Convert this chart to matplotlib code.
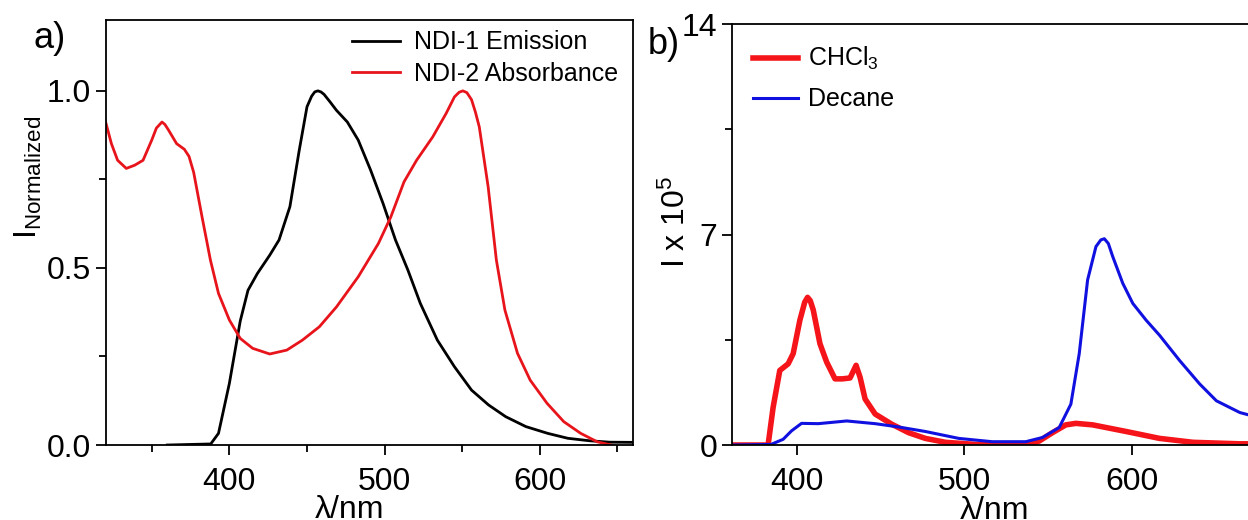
import matplotlib
matplotlib.use("Agg")
import matplotlib.pyplot as plt
from matplotlib.ticker import MultipleLocator

plt.rcParams['font.family'] = ['Liberation Sans', 'DejaVu Sans']
plt.rcParams['mathtext.fontset'] = 'custom'
plt.rcParams['mathtext.rm'] = 'Liberation Sans'
plt.rcParams['mathtext.it'] = 'Liberation Sans'

# panel a: NDI-1 emission (normalized)
em_x = [360, 388, 393, 400, 407, 412, 418, 426, 432, 439, 445, 450, 453, 455, 457, 459,
        461, 465, 469, 476, 483, 491, 499, 507, 515, 523, 534, 545, 556, 567, 578, 591,
        605, 618, 632, 645, 660]
em_y = [0.0, 0.003, 0.033, 0.174, 0.35, 0.437, 0.484, 0.536, 0.579, 0.673, 0.832, 0.955,
        0.985, 0.997, 1.0, 0.997, 0.99, 0.968, 0.945, 0.912, 0.861, 0.776, 0.682, 0.579,
        0.494, 0.40, 0.296, 0.221, 0.155, 0.113, 0.08, 0.052, 0.033, 0.019, 0.012, 0.008,
        0.0075]

# panel a: NDI-2 absorbance (normalized)
ab_x = [320, 324, 328, 333.6, 339, 344.4, 350, 353, 356.6, 358.5, 360.7, 366, 371, 374,
        377, 382.4, 387.8, 393, 400, 407, 415, 426, 437, 447, 458, 469, 483, 496, 504,
        512.5, 520.6, 531, 539.6, 545, 548, 550.4, 553, 556, 558.5, 561, 566.7, 572,
        577.5, 585.6, 593.8, 604.6, 615.4, 626.3, 637, 650.7, 660]
ab_y = [0.917, 0.851, 0.804, 0.781, 0.79, 0.804, 0.861, 0.895, 0.912, 0.905, 0.89, 0.851,
        0.835, 0.815, 0.77, 0.644, 0.522, 0.428, 0.353, 0.301, 0.273, 0.257, 0.268, 0.296,
        0.334, 0.39, 0.475, 0.569, 0.644, 0.743, 0.804, 0.87, 0.936, 0.983, 0.996, 1.0,
        0.995, 0.975, 0.94, 0.898, 0.729, 0.522, 0.381, 0.259, 0.183, 0.118, 0.066, 0.033,
        0.009, -0.005, -0.012]

# panel b: emission in CHCl3 (x 10^5)
chcl3_x = [361, 382.6, 385.6, 389.6, 394.6, 397.6, 401.6, 404.5, 406.2, 407.8, 409.6,
           413.6, 417.6, 422.6, 427, 431.6, 435.2, 437.6, 440.6, 446.6, 456.6, 466.6,
           476.6, 488.6, 506.6, 536.6, 544.6, 552.6, 560.6, 566.6, 576.6, 596.6, 616.6,
           636.6, 664.6, 675]
chcl3_y = [0.0, 0.0, 1.25, 2.48, 2.70, 3.04, 4.15, 4.75, 4.91, 4.8, 4.49, 3.37, 2.76,
           2.2, 2.2, 2.23, 2.65, 2.25, 1.53, 1.03, 0.69, 0.41, 0.22, 0.09, 0.02, 0.02,
           0.13, 0.41, 0.67, 0.72, 0.67, 0.45, 0.22, 0.09, 0.04, 0.04]

# panel b: emission in decane (x 10^5)
decane_x = [361, 384.4, 391.6, 396.6, 402.6, 412.6, 429.6, 446.6, 460.6, 476.6, 496.6,
            516.6, 536.6, 546.6, 556.6, 563.6, 568.6, 573.6, 578.6, 581.5, 583.6, 586,
            588.6, 594.6, 600.6, 608.6, 616.6, 628.6, 640.6, 650.6, 664.6, 670]
decane_y = [0.0, 0.02, 0.19, 0.47, 0.72, 0.71, 0.80, 0.71, 0.6, 0.45, 0.22, 0.11, 0.11,
            0.25, 0.58, 1.36, 3.04, 5.49, 6.6, 6.82, 6.86, 6.7, 6.27, 5.38, 4.71, 4.15,
            3.65, 2.81, 2.03, 1.47, 1.08, 1.0]

fig = plt.figure(figsize=(12.48, 5.2), dpi=100)
fs = 23

def style(ax):
    ax.tick_params(which='both', direction='out', labelsize=fs, width=1.3)
    ax.tick_params(which='major', length=7)
    ax.tick_params(which='minor', length=5)
    ax.tick_params(axis='x', which='major', pad=8.5)
    for s in ax.spines.values():
        s.set_linewidth(1.3)

# ---- a ----
ax1 = fig.add_axes([0.0849, 0.1442, 0.4223, 0.8173])
ax1.plot(em_x, em_y, color='black', lw=2, label='NDI-1 Emission')
ax1.plot(ab_x, ab_y, color='#e8141b', lw=2, label='NDI-2 Absorbance')
ax1.set_xlim(320.5, 660)
ax1.set_ylim(0, 1.2)
ax1.xaxis.set_major_locator(MultipleLocator(100))
ax1.xaxis.set_minor_locator(MultipleLocator(50))
ax1.set_yticks([0.0, 0.5, 1.0])
ax1.yaxis.set_minor_locator(MultipleLocator(0.25))
style(ax1)
ax1.set_xlabel('λ/nm', fontsize=fs)
ax1.xaxis.set_label_coords(0.463, -0.118, transform=ax1.transAxes)
ax1.xaxis.label.set_va('top')
ax1.set_ylabel(r'I$_\mathregular{Normalized}$', fontsize=fs)
ax1.yaxis.set_label_coords(-0.118, 0.63)
ax1.legend(loc='upper right', fontsize=18, frameon=False, handlelength=1.9,
           handletextpad=0.55, labelspacing=0.3, borderaxespad=0.1,
           bbox_to_anchor=(0.995, 1.005))
fig.text(0.027, 0.925, 'a)', fontsize=26, ha='left', va='center')

# ---- b ----
ax2 = fig.add_axes([0.5865, 0.1442, 0.4209, 0.8096])
ax2.plot(chcl3_x, chcl3_y, color='#f5141a', lw=4, label=r'CHCl$_3$')
ax2.plot(decane_x, decane_y, color='#1010e0', lw=2.2, label='Decane')
ax2.set_xlim(361, 675)
ax2.set_ylim(0, 14)
ax2.set_xticks([400, 500, 600])
ax2.set_yticks([0, 7, 14])
ax2.yaxis.set_minor_locator(MultipleLocator(3.5))
style(ax2)
ax2.set_xlabel('λ/nm', fontsize=fs)
ax2.xaxis.set_label_coords(0.5, -0.12, transform=ax2.transAxes)
ax2.xaxis.label.set_va('top')
ax2.set_ylabel(r'I x 10$^5$', fontsize=fs)
ax2.yaxis.set_label_coords(-0.076, 0.53)
ax2.legend(loc='upper left', fontsize=18, frameon=False, handlelength=1.8,
           handletextpad=0.4, labelspacing=0.6, borderaxespad=0.45)
fig.text(0.519, 0.915, 'b)', fontsize=26, ha='left', va='center')

fig.savefig('out.png', dpi=100)
